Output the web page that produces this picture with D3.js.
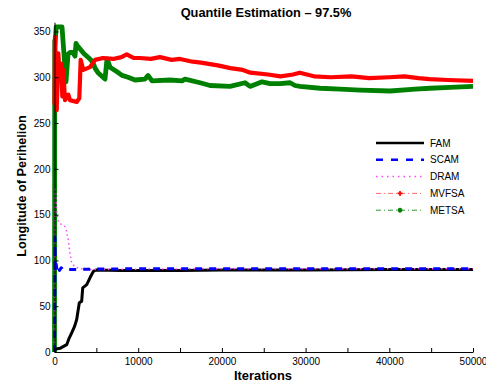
<!DOCTYPE html>
<html>
<head>
<meta charset="utf-8">
<script src="https://cdn.jsdelivr.net/npm/d3@7"></script>
<style>
html,body{margin:0;padding:0;background:#fff;}
svg{display:block;font-family:"Liberation Sans",Arial,Helvetica,sans-serif;}
</style>
</head>
<body>
<svg id="chart" width="486" height="385"></svg>
<script>
// ---------- data ----------
const xTicks = [0, 10000, 20000, 30000, 40000, 50000];
const xMinorTicks = [0, 5000, 10000, 15000, 20000, 25000, 30000, 35000, 40000, 45000, 50000];
const yTicks = [0, 50, 100, 150, 200, 250, 300, 350];

const famIter = [0, 60, 660, 1460, 1700, 2055, 2400, 2650, 2965, 3250, 3370, 3850, 4240, 4640, 4960, 8000, 15000, 20000, 30000, 40000, 50000];
const famVal  = [0, 3, 4, 8, 14, 21, 28, 35.5, 53.7, 55.5, 70, 73.6, 81, 88, 89.5, 89, 89, 89.5, 89.5, 90, 90];

const scamIter = [0, 30, 60, 100, 200, 300, 400, 600, 800, 1000, 2000, 5000, 10000, 20000, 30000, 40000, 50000];
const scamVal  = [0, 60, 125, 88, 96, 89, 93, 89, 92, 90, 90, 90.5, 91, 91, 91, 91, 91];

const dramIter = [0, 30, 60, 180, 263, 454, 860, 1250, 1460, 1650, 1850, 2055, 2450, 3050, 3650, 10000, 20000, 30000, 40000, 50000];
const dramVal  = [0, 120, 180, 166, 155, 142, 139, 137, 131, 122, 108, 97, 93, 91, 90, 90.5, 91, 91, 91, 91];

const mvfsaIter = [0, 60, 263, 454, 657, 777, 932, 1050, 1254, 1650, 1850, 2650, 2963, 3130, 3440, 4240, 4840, 5795, 7000, 8000, 8626, 9500, 10215, 11500, 12604, 14000, 15000, 16500, 17500, 19500, 21000, 22500, 23400, 25500, 27000, 28500, 29300, 31000, 33000, 35500, 37600, 40000, 41800, 43500, 44800, 47000, 50000];
const mvfsaVal  = [270, 344, 264, 326, 297, 315, 279, 308, 275, 281, 275, 273, 277, 319, 308, 311, 319, 321, 320, 322, 325, 321, 321, 320, 322, 319, 320, 317, 316, 313, 310, 308, 305, 303, 301, 303, 305, 301, 300, 301, 299, 300, 301, 299, 298, 297, 296];

const metsaIter = [0, 30, 60, 200, 896, 1016, 1374, 1613, 1852, 2210, 2450, 2570, 2690, 3500, 4242, 4600, 4840, 5200, 5796, 6035, 6274, 6632, 7470, 8066, 8783, 9620, 10815, 11173, 11651, 13800, 15236, 15594, 17388, 18583, 20973, 22765, 23363, 24797, 25753, 26948, 28143, 28740, 29338, 31728, 34118, 36508, 40093, 43080, 44873, 47263, 50000];
const metsaVal  = [0, 340, 335, 355, 355, 340, 295, 325, 327, 327, 323, 337, 335, 326, 320, 316, 310, 305, 300, 298, 320, 311, 306, 302, 300, 297, 298, 302, 296, 297, 296, 298, 294, 291, 290, 294, 290, 295, 293, 293, 294, 291, 290, 288, 287, 286, 285, 287, 288, 289, 290];

const seriesNames = ["FAM", "SCAM", "DRAM", "MVFSA", "METSA"];

// ---------- layout ----------
const svg = d3.select("#chart");
const x = d3.scaleLinear().domain([0, 50000]).range([54.5, 473]);
const y = d3.scaleLinear().domain([0, 360]).range([352, 22.3]);

const series = {
  FAM:   {iter: famIter,   val: famVal,   color: "#000000", width: 3,   dash: null},
  SCAM:  {iter: scamIter,  val: scamVal,  color: "#0000ff", width: 3,   dash: "7,7"},
  DRAM:  {iter: dramIter,  val: dramVal,  color: "#ff44ff", width: 1.5, dash: "1.5,3"},
  MVFSA: {iter: mvfsaIter, val: mvfsaVal, color: "#ff0000", width: 4.2, dash: null},
  METSA: {iter: metsaIter, val: metsaVal, color: "#008000", width: 4.8, dash: null}
};

const line = d3.line().x(d => x(d[0])).y(d => y(d[1]));
const plot = svg.append("g");
["METSA", "MVFSA", "FAM", "DRAM", "SCAM"].forEach(n => {
  const s = series[n];
  const pts = s.iter.map((it, i) => [it, s.val[i]]);
  plot.append("path")
    .attr("d", line(pts))
    .attr("fill", "none")
    .attr("stroke", s.color)
    .attr("stroke-width", s.width)
    .attr("stroke-linejoin", "round")
    .attr("stroke-dasharray", s.dash);
});

// ---------- axes ----------
const xAxis = d3.axisBottom(x).tickValues(xMinorTicks).tickSizeInner(-4).tickSizeOuter(0)
  .tickFormat(d => xTicks.includes(d) ? d3.format("d")(d) : "");
const gx = svg.append("g").attr("transform", `translate(0,${y(0)})`).call(xAxis);
gx.select(".domain").attr("stroke", "#000").attr("stroke-width", 1);
gx.selectAll(".tick line").attr("stroke", "#000");
gx.selectAll(".tick text").attr("font-size", 10).attr("font-family", "Liberation Sans, Arial, sans-serif").attr("dy", "0").attr("y", 13).attr("fill", "#000");

const yAxis = d3.axisLeft(y).tickValues(yTicks).tickSizeInner(-4).tickSizeOuter(0).tickFormat(d3.format("d"));
const gy = svg.append("g").attr("transform", `translate(${x(0)},0)`).call(yAxis);
gy.select(".domain").attr("stroke", "#000").attr("stroke-width", 1);
gy.selectAll(".tick line").attr("stroke", "#000");
gy.selectAll(".tick text").attr("font-size", 10).attr("font-family", "Liberation Sans, Arial, sans-serif").attr("x", -4).attr("fill", "#000");

// ---------- labels ----------
svg.append("text").attr("x", 266).attr("y", 17).attr("text-anchor", "middle")
  .attr("font-size", 12.8).attr("font-weight", "bold").text("Quantile Estimation \u2013 97.5%");
svg.append("text").attr("x", 263).attr("y", 380).attr("text-anchor", "middle")
  .attr("font-size", 12.9).attr("font-weight", "bold").text("Iterations");
svg.append("text").attr("transform", "translate(26,186) rotate(-90)").attr("text-anchor", "middle")
  .attr("font-size", 12.7).attr("font-weight", "bold").text("Longitude of Perihelion");

// ---------- legend ----------
const legend = svg.append("g");
const legendStyle = {
  FAM:   {color: "#000", width: 2.5, dash: null, marker: null},
  SCAM:  {color: "#0000ff", width: 2.5, dash: "7,8", marker: null},
  DRAM:  {color: "#ff44ff", width: 1.5, dash: "1.5,4", marker: null},
  MVFSA: {color: "#ff6666", width: 1, dash: "5,3,1,3", marker: "star"},
  METSA: {color: "#339933", width: 1, dash: "5,3,1,3", marker: "circle"}
};
seriesNames.forEach((n, i) => {
  const yy = 143 + i * 16.8;
  const st = legendStyle[n];
  legend.append("line").attr("x1", 376).attr("x2", 424).attr("y1", yy).attr("y2", yy)
    .attr("stroke", st.color).attr("stroke-width", st.width).attr("stroke-dasharray", st.dash);
  if (st.marker === "circle") {
    legend.append("circle").attr("cx", 400).attr("cy", yy).attr("r", 2).attr("fill", "#008000").attr("stroke", "#008000");
  } else if (st.marker === "star") {
    legend.append("path").attr("d", d3.symbol(d3.symbolCross, 14)()).attr("transform", `translate(400,${yy})`).attr("fill", "#ff0000");
  }
  legend.append("text").attr("x", 430).attr("y", yy + 3.6).attr("font-size", 10).text(n);
});
</script>
</body>
</html>
